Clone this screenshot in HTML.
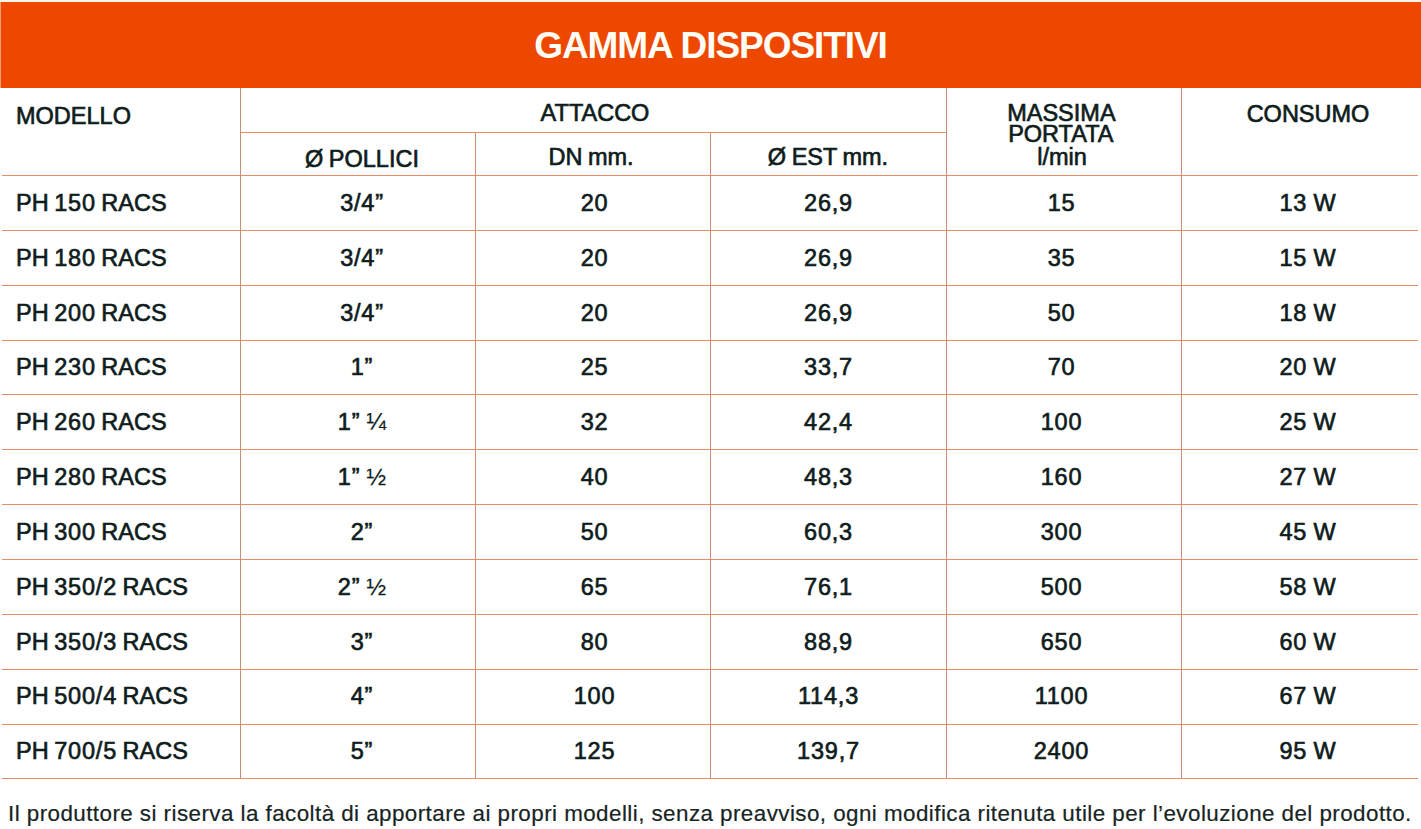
<!DOCTYPE html>
<html><head><meta charset="utf-8"><style>
html,body{margin:0;padding:0;background:#fff;width:1421px;height:829px;overflow:hidden;position:relative}
body{font-family:"Liberation Sans",sans-serif;color:#0f1c1c}
.bar{position:absolute;left:1px;top:2px;width:1420px;height:86px;background:#ee4800}
.title{position:absolute;left:0;width:1421px;top:16px;height:60px;line-height:60px;text-align:center;color:#fffdf6;font-weight:bold;font-size:37px;letter-spacing:-1.06px;white-space:nowrap}
.h{position:absolute;height:1px;background:#e68e6c}
.v{position:absolute;width:1px;background:#c98d72}
.t{position:absolute;white-space:nowrap;font-size:23.5px;line-height:30px;height:30px;-webkit-text-stroke:0.65px #0f1c1c;word-spacing:-1px}
.n{letter-spacing:0.8px}
.fr{-webkit-text-stroke:0.2px #0f1c1c;letter-spacing:0}
.c{width:300px;text-align:center}
.foot{position:absolute;left:8px;top:799px;line-height:30px;font-size:22.4px;letter-spacing:0.44px;white-space:nowrap;color:#172424;-webkit-text-stroke:0.2px #172424}
</style></head><body>
<div style="position:absolute;left:0;top:0;width:1421px;height:2px;background:#fdf5ea"></div>
<div class="bar"></div>
<div style="position:absolute;left:0;top:2px;width:1px;height:86px;background:#f4a070"></div>
<div class="title">GAMMA DISPOSITIVI</div>

<div class="h" style="left:240px;width:706px;top:132px"></div>
<div class="h" style="left:2px;width:1416px;top:175px"></div>
<div class="h" style="left:2px;width:1416px;top:230px"></div>
<div class="h" style="left:2px;width:1416px;top:285px"></div>
<div class="h" style="left:2px;width:1416px;top:340px"></div>
<div class="h" style="left:2px;width:1416px;top:394px"></div>
<div class="h" style="left:2px;width:1416px;top:449px"></div>
<div class="h" style="left:2px;width:1416px;top:504px"></div>
<div class="h" style="left:2px;width:1416px;top:559px"></div>
<div class="h" style="left:2px;width:1416px;top:614px"></div>
<div class="h" style="left:2px;width:1416px;top:669px"></div>
<div class="h" style="left:2px;width:1416px;top:724px"></div>
<div class="h" style="left:2px;width:1416px;top:778px"></div>
<div class="v" style="left:240px;top:88px;height:690px"></div>
<div class="v" style="left:475px;top:132px;height:646px"></div>
<div class="v" style="left:710px;top:132px;height:646px"></div>
<div class="v" style="left:946px;top:88px;height:690px"></div>
<div class="v" style="left:1181px;top:88px;height:690px"></div>
<div class="t" style="left:16px;top:100.6px">MODELLO</div>
<div class="t c" style="left:445px;top:98px">ATTACCO</div>
<div class="t c" style="left:212px;top:144.4px">Ø POLLICI</div>
<div class="t c" style="left:441px;top:142px">DN mm.</div>
<div class="t c" style="left:678px;top:141.6px">Ø EST mm.</div>
<div class="t c" style="left:911.4000000000001px;top:98.4px">MASSIMA</div>
<div class="t c" style="left:910.8px;top:118.8px">PORTATA</div>
<div class="t c" style="left:912px;top:141.6px">l/min</div>
<div class="t c" style="left:1158px;top:98.6px">CONSUMO</div>
<div class="t" style="left:16px;top:187.80px">PH <span class="n">150</span> RACS</div>
<div class="t c n" style="left:212px;top:187.8px">3/4”</div>
<div class="t c n" style="left:444.5px;top:187.8px">20</div>
<div class="t c n" style="left:678.5px;top:187.8px">26,9</div>
<div class="t c n" style="left:911.5px;top:187.8px">15</div>
<div class="t c n" style="left:1158px;top:187.8px">13 W</div>
<div class="t" style="left:16px;top:242.65px">PH <span class="n">180</span> RACS</div>
<div class="t c n" style="left:212px;top:242.65px">3/4”</div>
<div class="t c n" style="left:444.5px;top:242.65px">20</div>
<div class="t c n" style="left:678.5px;top:242.65px">26,9</div>
<div class="t c n" style="left:911.5px;top:242.65px">35</div>
<div class="t c n" style="left:1158px;top:242.65px">15 W</div>
<div class="t" style="left:16px;top:297.50px">PH <span class="n">200</span> RACS</div>
<div class="t c n" style="left:212px;top:297.5px">3/4”</div>
<div class="t c n" style="left:444.5px;top:297.5px">20</div>
<div class="t c n" style="left:678.5px;top:297.5px">26,9</div>
<div class="t c n" style="left:911.5px;top:297.5px">50</div>
<div class="t c n" style="left:1158px;top:297.5px">18 W</div>
<div class="t" style="left:16px;top:352.35px">PH <span class="n">230</span> RACS</div>
<div class="t c n" style="left:212px;top:352.35px">1”</div>
<div class="t c n" style="left:444.5px;top:352.35px">25</div>
<div class="t c n" style="left:678.5px;top:352.35px">33,7</div>
<div class="t c n" style="left:911.5px;top:352.35px">70</div>
<div class="t c n" style="left:1158px;top:352.35px">20 W</div>
<div class="t" style="left:16px;top:407.20px">PH <span class="n">260</span> RACS</div>
<div class="t c n" style="left:212px;top:407.2px">1”&nbsp;<span class=fr>¼</span></div>
<div class="t c n" style="left:444.5px;top:407.2px">32</div>
<div class="t c n" style="left:678.5px;top:407.2px">42,4</div>
<div class="t c n" style="left:911.5px;top:407.2px">100</div>
<div class="t c n" style="left:1158px;top:407.2px">25 W</div>
<div class="t" style="left:16px;top:462.05px">PH <span class="n">280</span> RACS</div>
<div class="t c n" style="left:212px;top:462.05px">1”&nbsp;<span class=fr>½</span></div>
<div class="t c n" style="left:444.5px;top:462.05px">40</div>
<div class="t c n" style="left:678.5px;top:462.05px">48,3</div>
<div class="t c n" style="left:911.5px;top:462.05px">160</div>
<div class="t c n" style="left:1158px;top:462.05px">27 W</div>
<div class="t" style="left:16px;top:516.90px">PH <span class="n">300</span> RACS</div>
<div class="t c n" style="left:212px;top:516.9px">2”</div>
<div class="t c n" style="left:444.5px;top:516.9px">50</div>
<div class="t c n" style="left:678.5px;top:516.9px">60,3</div>
<div class="t c n" style="left:911.5px;top:516.9px">300</div>
<div class="t c n" style="left:1158px;top:516.9px">45 W</div>
<div class="t" style="left:16px;top:571.75px">PH <span class="n">350/2</span> RACS</div>
<div class="t c n" style="left:212px;top:571.75px">2”&nbsp;<span class=fr>½</span></div>
<div class="t c n" style="left:444.5px;top:571.75px">65</div>
<div class="t c n" style="left:678.5px;top:571.75px">76,1</div>
<div class="t c n" style="left:911.5px;top:571.75px">500</div>
<div class="t c n" style="left:1158px;top:571.75px">58 W</div>
<div class="t" style="left:16px;top:626.60px">PH <span class="n">350/3</span> RACS</div>
<div class="t c n" style="left:212px;top:626.6px">3”</div>
<div class="t c n" style="left:444.5px;top:626.6px">80</div>
<div class="t c n" style="left:678.5px;top:626.6px">88,9</div>
<div class="t c n" style="left:911.5px;top:626.6px">650</div>
<div class="t c n" style="left:1158px;top:626.6px">60 W</div>
<div class="t" style="left:16px;top:681.45px">PH <span class="n">500/4</span> RACS</div>
<div class="t c n" style="left:212px;top:681.45px">4”</div>
<div class="t c n" style="left:444.5px;top:681.45px">100</div>
<div class="t c n" style="left:678.5px;top:681.45px">114,3</div>
<div class="t c n" style="left:911.5px;top:681.45px">1100</div>
<div class="t c n" style="left:1158px;top:681.45px">67 W</div>
<div class="t" style="left:16px;top:736.30px">PH <span class="n">700/5</span> RACS</div>
<div class="t c n" style="left:212px;top:736.3px">5”</div>
<div class="t c n" style="left:444.5px;top:736.3px">125</div>
<div class="t c n" style="left:678.5px;top:736.3px">139,7</div>
<div class="t c n" style="left:911.5px;top:736.3px">2400</div>
<div class="t c n" style="left:1158px;top:736.3px">95 W</div>
<div class="foot">Il produttore si riserva la facoltà di apportare ai propri modelli, senza preavviso, ogni modifica ritenuta utile per l’evoluzione del prodotto.</div>
</body></html>
